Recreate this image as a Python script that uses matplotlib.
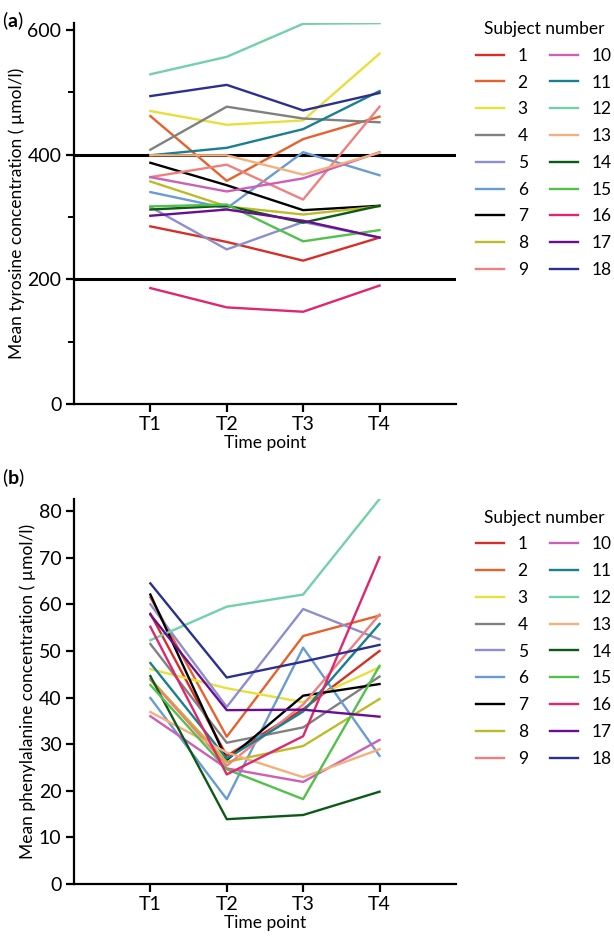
import matplotlib
matplotlib.use("Agg")
import matplotlib.pyplot as plt
from matplotlib.ticker import MultipleLocator

plt.rcParams['font.family'] = ['Lato', 'DejaVu Sans']
plt.rcParams['mathtext.fontset'] = 'custom'
plt.rcParams['mathtext.rm'] = 'Lato'
plt.rcParams['mathtext.bf'] = 'Lato:bold'

# time points and subjects
time_points = ['T1', 'T2', 'T3', 'T4']
subjects = [str(i) for i in range(1, 19)]

colors = ['#d62f27', '#e8612c', '#e8e03a', '#808080', '#8c8fce', '#6a9bd2',
          '#000000', '#bcbc2a', '#f08080', '#cc5fb7', '#197f91', '#72d1a8',
          '#f4b07a', '#0b5a16', '#52c04a', '#e0266f', '#6a0d91', '#2b2f8f']

# mean tyrosine (umol/l), one row per subject, T1..T4
tyrosine = [
    [285, 260, 230, 267],
    [462, 358, 425, 461],
    [470, 448, 455, 562],
    [408, 477, 458, 452],
    [316, 248, 292, 267],
    [340, 314, 404, 367],
    [387, 351, 311, 318],
    [357, 317, 304, 317],
    [364, 384, 328, 477],
    [364, 341, 362, 404],
    [399, 411, 441, 502],
    [529, 557, 610, 611],
    [399, 399, 368, 403],
    [312, 318, 291, 318],
    [317, 320, 261, 279],
    [186, 155, 148, 190],
    [302, 312, 294, 267],
    [494, 512, 471, 499],
]

# mean phenylalanine (umol/l)
phenylalanine = [
    [58.0, 27.5, 37.5, 50.0],
    [61.5, 31.6, 53.2, 57.6],
    [46.1, 42.0, 39.0, 46.5],
    [51.5, 30.3, 33.6, 44.5],
    [60.0, 38.0, 59.0, 52.5],
    [39.9, 18.2, 50.7, 27.5],
    [62.1, 26.6, 40.4, 42.9],
    [44.0, 26.2, 29.6, 39.7],
    [43.8, 25.4, 38.5, 57.8],
    [36.0, 24.8, 21.9, 30.9],
    [47.4, 26.9, 37.0, 55.8],
    [52.3, 59.5, 62.1, 82.6],
    [36.9, 28.2, 22.9, 28.9],
    [44.6, 13.9, 14.8, 19.8],
    [42.7, 24.6, 18.2, 46.8],
    [55.2, 23.5, 31.7, 70.1],
    [57.8, 37.3, 37.4, 35.9],
    [64.5, 44.3, 47.7, 51.3],
]

fig = plt.figure(figsize=(6.14, 9.38), dpi=100)
ax1 = fig.add_axes([0.1205, 0.5693, 0.622, 0.406])
ax2 = fig.add_axes([0.1205, 0.0576, 0.622, 0.4104])

x = [1, 2, 3, 4]


def style_axes(ax):
    for side in ['top', 'right']:
        ax.spines[side].set_visible(False)
    for side in ['left', 'bottom']:
        ax.spines[side].set_linewidth(1.6)
    ax.tick_params(which='major', length=6, width=1.6, labelsize=14, pad=3)
    ax.tick_params(which='minor', length=4, width=1.4)
    ax.set_xlim(0, 5)
    ax.set_xticks(x)
    ax.set_xticklabels(time_points)
    ax.set_xlabel('Time point', fontsize=12.5, labelpad=1)


def add_legend(ax, y_top):
    ax.legend(loc='upper left', bbox_to_anchor=(0.764, y_top),
              bbox_transform=fig.transFigure, ncol=2, frameon=False,
              title='Subject number', fontsize=12.5, title_fontsize=12.5,
              handlelength=1.6, handletextpad=0.8, columnspacing=1.3,
              labelspacing=0.62, borderaxespad=0)


# panel a
ax1.axhline(200, color='black', lw=2.2, zorder=1)
ax1.axhline(400, color='black', lw=2.2, zorder=1)
for i in range(len(subjects)):
    ax1.plot(x, tyrosine[i], color=colors[i], lw=1.7, label=subjects[i])
style_axes(ax1)
ax1.set_ylim(0, 611)
ax1.yaxis.set_major_locator(MultipleLocator(200))
ax1.yaxis.set_minor_locator(MultipleLocator(100))
ax1.set_ylabel('Mean tyrosine concentration ( µmol/l)', fontsize=12.5, labelpad=2)
add_legend(ax1, 0.985)
fig.text(0.003, 0.99, r'($\mathbf{a}$)', fontsize=14, va='top')

# panel b
for i in range(len(subjects)):
    ax2.plot(x, phenylalanine[i], color=colors[i], lw=1.7, label=subjects[i])
style_axes(ax2)
ax2.set_ylim(0, 82.6)
ax2.yaxis.set_major_locator(MultipleLocator(10))
ax2.set_ylabel('Mean phenylalanine concentration ( µmol/l)', fontsize=12.5, labelpad=2)
add_legend(ax2, 0.464)
fig.text(0.003, 0.503, r'($\mathbf{b}$)', fontsize=14, va='top')

fig.savefig('out.png', dpi=100)
